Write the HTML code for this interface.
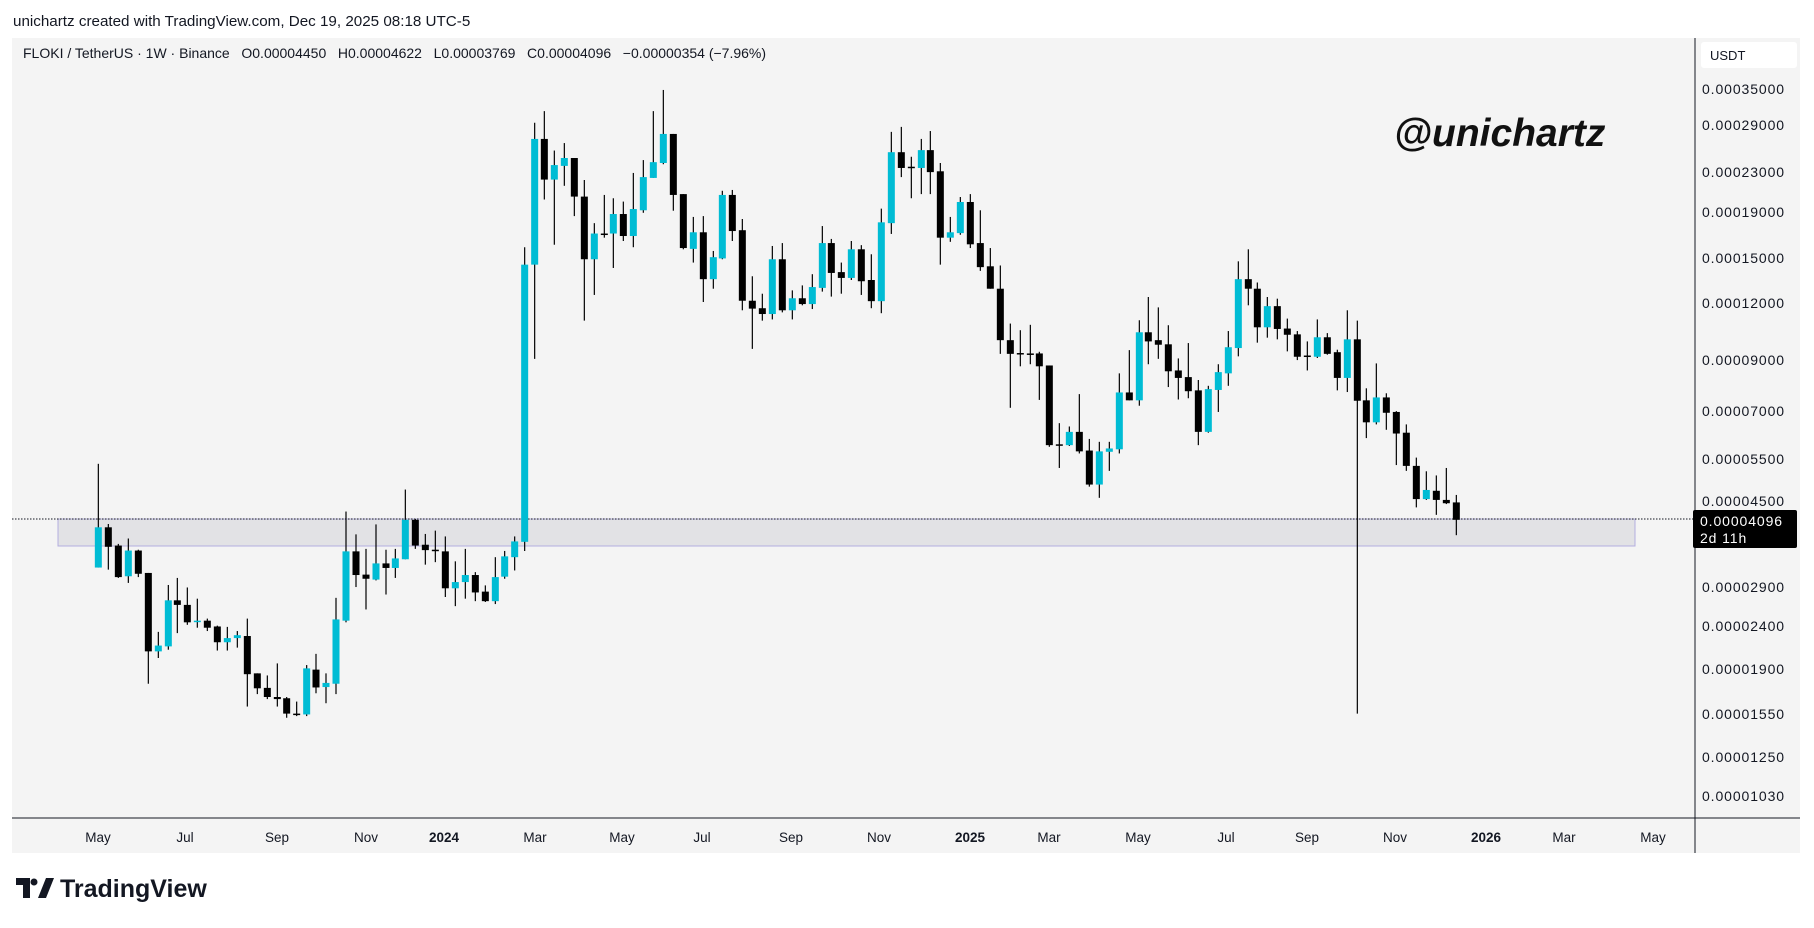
<!DOCTYPE html>
<html><head><meta charset="utf-8">
<style>
html,body{margin:0;padding:0;background:#fff;width:1814px;height:928px;overflow:hidden}
svg{display:block}
text{font-family:"Liberation Sans",sans-serif}
</style></head><body>
<svg id="s" width="1814" height="928" viewBox="0 0 1814 928" xmlns="http://www.w3.org/2000/svg">
<rect x="0" y="0" width="1814" height="928" fill="#fff"/>
<text x="13" y="26" font-size="15.2" fill="#131722">unichartz created with TradingView.com, Dec 19, 2025 08:18 UTC-5</text>
<rect x="12" y="38" width="1788" height="815" fill="#f4f4f4"/>
<text x="23" y="58" font-size="14" fill="#131722" xml:space="preserve" style="white-space:pre">FLOKI / TetherUS · 1W · Binance   O0.00004450   H0.00004622   L0.00003769   C0.00004096   −0.00000354 (−7.96%)</text>
<rect x="58" y="519" width="1577" height="27" fill="#e2e2e5" stroke="#b3aee0" stroke-width="1"/>
<line x1="12" y1="519" x2="1695" y2="519" stroke="#131722" stroke-width="1" stroke-dasharray="1.5,1.5"/>
<g id="c"></g>
<text x="1394" y="146" font-size="39" font-weight="bold" font-style="italic" fill="#111" font-family="DejaVu Sans, sans-serif">@unichartz</text>
<line x1="1695" y1="38" x2="1695" y2="853" stroke="#131722" stroke-width="1"/>
<line x1="12" y1="818" x2="1800" y2="818" stroke="#131722" stroke-width="1"/>
<rect x="1701" y="42" width="96" height="26" rx="3" fill="#fff"/>
<text x="1710" y="60" font-size="13" fill="#131722" font-family="DejaVu Sans, sans-serif">USDT</text>
<g id="p" font-size="14" fill="#131722" font-family="DejaVu Sans, sans-serif" letter-spacing="0.9"></g>
<rect x="1693" y="510" width="104" height="38" rx="2" fill="#000"/>
<text x="1700" y="526" font-size="14" fill="#fff" font-family="DejaVu Sans, sans-serif" letter-spacing="0.9">0.00004096</text>
<text x="1700" y="543" font-size="14" fill="#fff" font-family="DejaVu Sans, sans-serif" letter-spacing="0.9">2d 11h</text>
<g id="t" font-size="13.5" fill="#131722" text-anchor="middle" font-family="DejaVu Sans, sans-serif"></g>
<g transform="translate(16,878)">
<path d="M0 0 h14 v20 h-7 v-13 h-7z" fill="#131722"/>
<circle cx="18" cy="4" r="3.5" fill="#131722"/>
<path d="M22 20 l8 -20 h8 l-8 20z" fill="#131722"/>
<text x="44" y="19" font-size="25" font-weight="bold" fill="#131722">TradingView</text>
</g>
</svg>
<script>
const ns="http://www.w3.org/2000/svg";
function el(t,a,p){const e=document.createElementNS(ns,t);for(const k in a)e.setAttribute(k,a[k]);p.appendChild(e);return e;}
const Z3=[[55,1175,925,1175,1078],[85,1078,1070,1180,1125],[115,1122,1118,1200,1198],[145,1196,1105,1212,1134],[175,1134,1132,1198,1190],[205,1188,1188,1455,1377],[235,1377,1330,1393,1363],[265,1365,1217,1373,1254],[292,1254,1200,1333,1265],[322,1265,1223,1313,1307],[352,1305,1250,1320,1303],[382,1303,1298,1328,1320],[412,1317,1315,1375,1355],[442,1355,1318,1375,1345],[472,1345,1328,1368,1338],[502,1340,1298,1510,1432],[532,1430,1430,1480,1466],[562,1465,1435,1492,1487],[592,1487,1406,1510,1492],[620,1490,1487,1537,1527],[650,1527,1498,1533,1529],[680,1529,1410,1533,1418],[708,1421,1383,1478,1464],[738,1463,1430,1502,1453],[768,1455,1248,1480,1300],[798,1303,1040,1307,1136],[828,1136,1095,1222,1193],[858,1192,1130,1276,1202],[888,1204,1071,1206,1165],[918,1165,1132,1240,1176],[946,1176,1130,1200,1153],[976,1155,987,1155,1060],[1006,1060,1058,1130,1122],[1036,1120,1094,1168,1133],[1066,1132,1086,1162,1135],[1096,1136,1100,1246,1225],[1126,1225,1160,1268,1210],[1156,1210,1130,1250,1193],[1186,1193,1186,1256,1235],[1216,1233,1218,1258,1256],[1246,1256,1150,1263,1198],[1274,1197,1135,1202,1148],[1304,1150,1100,1182,1112],[1334,1113,403,1135,445],[1364,445,103,672,142]];
const Z4=[[43,142,75,288,240],[73,240,170,397,205],[103,207,152,255,188],[133,188,188,328,281],[163,281,241,580,432],[193,432,345,518,370],[223,370,277,380,372],[250,370,285,453,323],[280,323,293,388,376],[310,376,224,403,311],[340,314,193,320,234],[370,236,75,236,198],[400,200,24,203,130],[430,130,130,315,277],[460,275,275,408,405],[490,407,330,440,367],[520,367,328,535,480],[550,480,412,503,427],[577,430,267,432,277],[607,277,265,388,364],[637,362,335,555,532],[667,532,473,648,551],[697,550,515,580,564],[727,564,400,577,432],[757,432,393,560,555],[787,555,507,577,526],[817,526,495,543,540],[847,540,468,552,499],[877,501,352,510,393],[904,393,383,522,465],[934,463,440,515,477],[964,477,388,482,408],[994,408,398,518,485],[1024,482,420,550,533],[1054,533,310,562,343],[1084,345,125,371,174],[1114,174,113,234,212],[1144,209,185,285,212],[1174,212,142,275,169],[1201,169,123,275,222],[1231,220,200,445,380],[1261,380,330,390,367],[1291,369,282,373,294],[1321,294,275,405,396],[1351,393,314,460,451]];
const Z5=[[31,449,405,503,503],[61,503,447,660,627],[91,627,587,790,660],[121,658,603,690,660],[151,659,590,685,661],[178,659,655,771,690],[208,688,688,884,880],[238,878,827,935,880],[268,880,835,882,848],[298,848,757,900,895],[328,893,865,980,975],[358,975,872,1007,895],[388,896,872,942,888],[418,890,707,900,753],[448,753,651,772,772],[478,772,579,785,608],[505,608,523,685,630],[535,627,548,672,638],[565,637,591,740,702],[595,700,671,770,718],[625,716,634,767,750],[655,748,723,880,848],[685,848,737,850,745],[715,747,685,800,704],[745,707,605,737,644],[775,646,437,666,480],[805,480,408,543,503],[832,503,488,633,596],[862,596,523,621,545],[892,545,527,625,600],[922,599,575,654,614],[952,613,605,675,667],[982,664,630,700,667],[1012,667,577,670,620],[1042,620,610,662,660],[1072,656,650,748,718],[1102,718,555,752,625],[1132,625,580,1527,773],[1159,772,743,863,825],[1189,825,683,830,765],[1219,765,755,843,802],[1249,800,798,928,852],[1279,850,830,942,930],[1309,930,910,1030,1010],[1339,1010,943,1012,988],[1369,990,953,1048,1012],[1399,1012,935,1022,1020],[1429,1018,1000,1097,1060]];
const g=document.getElementById('c');
function draw(arr,x0){for(const [zx,o,h,l,c] of arr){const x=x0+zx/3;const Y=v=>80+v/2.41;
 const bull=c<o;const col=bull?'#00bcd4':'#000';
 el('line',{x1:x,y1:Y(h),x2:x,y2:Y(l),stroke:'#000','stroke-width':1.2},g);
 const top=Y(Math.min(o,c)),bh=Math.max(1.5,Math.abs(Y(o)-Y(c)));
 el('rect',{x:x-3.5,y:top,width:7,height:bh,fill:col},g);}}
draw(Z3,80);draw(Z4,530);draw(Z5,980);
const P=[["0.00035000",89],["0.00029000",125],["0.00023000",172],["0.00019000",212],["0.00015000",258],["0.00012000",303],["0.00009000",360],["0.00007000",411],["0.00005500",459],["0.00004500",501],["0.00002900",587],["0.00002400",626],["0.00001900",669],["0.00001550",714],["0.00001250",757],["0.00001030",796]];
const pg=document.getElementById('p');for(const [t,y] of P){const e=el('text',{x:1702,y:y+5},pg);e.textContent=t;}
const T=[["May",98],["Jul",185],["Sep",277],["Nov",366],["2024",444,1],["Mar",535],["May",622],["Jul",702],["Sep",791],["Nov",879],["2025",970,1],["Mar",1049],["May",1138],["Jul",1226],["Sep",1307],["Nov",1395],["2026",1486,1],["Mar",1564],["May",1653]];
const tg=document.getElementById('t');for(const [t,x,b] of T){const e=el('text',{x:x,y:842},tg);if(b)e.setAttribute('font-weight','bold');e.textContent=t;}
</script>
</body></html>
